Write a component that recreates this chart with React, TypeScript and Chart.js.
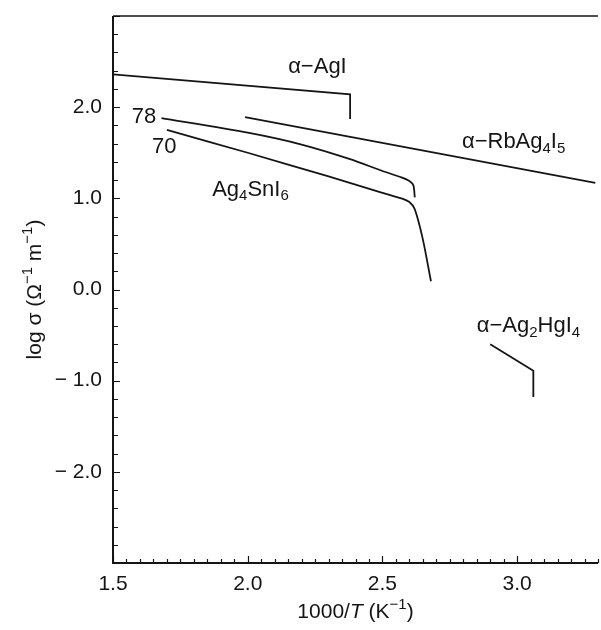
import React, { useEffect, useRef } from "react";
import { Chart, registerables } from "chart.js";

Chart.register(...registerables);

// ---- data ----
const agiX = [1.5, 2.38, 2.38];
const agiY = [2.36, 2.14, 1.87];

const rbX = [1.99, 3.29];
const rbY = [1.89, 1.17];

const sn78X = [1.68, 2.0, 2.2, 2.38, 2.5, 2.57, 2.6, 2.615, 2.62];
const sn78Y = [1.88, 1.72, 1.59, 1.43, 1.3, 1.23, 1.19, 1.14, 1.01];

const sn70X = [1.7, 2.0, 2.3, 2.5, 2.57, 2.6, 2.62, 2.65, 2.68];
const sn70Y = [1.75, 1.5, 1.24, 1.06, 1.0, 0.96, 0.88, 0.55, 0.09];

const hgX = [2.9, 3.06, 3.06];
const hgY = [-0.6, -0.89, -1.18];

const xMajorLabels = [1.5, 2.0, 2.5, 3.0];
const yMajorLabels = [-2, -1, 0, 1, 2];

const FAMILY = '"Liberation Sans", Arial, Helvetica, sans-serif';
const INK = "#151515";

type Part = { t: string; sub?: boolean; sup?: boolean; italic?: boolean };

// text annotations (data-space anchors, left/middle)
const annotations: { x: number; y: number; parts: Part[] }[] = [
  { x: 2.15, y: 2.44, parts: [{ t: "α−AgI" }] },
  { x: 1.57, y: 1.895, parts: [{ t: "78" }] },
  { x: 1.645, y: 1.566, parts: [{ t: "70" }] },
  { x: 1.868, y: 1.095, parts: [{ t: "Ag" }, { t: "4", sub: true }, { t: "SnI" }, { t: "6", sub: true }] },
  { x: 2.795, y: 1.62, parts: [{ t: "α−RbAg" }, { t: "4", sub: true }, { t: "I" }, { t: "5", sub: true }] },
  { x: 2.85, y: -0.405, parts: [{ t: "α−Ag" }, { t: "2", sub: true }, { t: "HgI" }, { t: "4", sub: true }] },
];

const toPts = (xs: number[], ys: number[]) => xs.map((x, i) => ({ x, y: ys[i] }));

function fontOf(p: Part, base: number) {
  const size = p.sub || p.sup ? Math.round(base * 0.7) : base;
  return `${p.italic ? "italic " : ""}${size}px ${FAMILY}`;
}

function richWidth(ctx: CanvasRenderingContext2D, parts: Part[], base: number) {
  let w = 0;
  for (const p of parts) {
    ctx.font = fontOf(p, base);
    w += ctx.measureText(p.t).width;
  }
  return w;
}

function drawRich(
  ctx: CanvasRenderingContext2D,
  parts: Part[],
  x: number,
  y: number,
  align: "left" | "center",
  base: number
) {
  const total = richWidth(ctx, parts, base);
  let cx = align === "center" ? x - total / 2 : x;
  ctx.textBaseline = "middle";
  ctx.textAlign = "left";
  for (const p of parts) {
    ctx.font = fontOf(p, base);
    const off = p.sub ? base * 0.3 : p.sup ? -base * 0.35 : 0;
    ctx.fillText(p.t, cx, y + off);
    cx += ctx.measureText(p.t).width;
  }
}

const isMajor = (v: number, step: number) => Math.abs(v / step - Math.round(v / step)) < 1e-6;

const framePlugin = {
  id: "frame",
  afterDraw(chart: any) {
    const ctx: CanvasRenderingContext2D = chart.ctx;
    const { left, right, top, bottom } = chart.chartArea;
    const xs = chart.scales.x;
    const ys = chart.scales.y;
    ctx.save();
    ctx.strokeStyle = INK;
    ctx.fillStyle = INK;

    // axes lines
    ctx.lineWidth = 2;
    ctx.beginPath();
    ctx.moveTo(left, top);
    ctx.lineTo(left, bottom);
    ctx.lineTo(right, bottom);
    ctx.stroke();
    ctx.lineWidth = 1.5;
    ctx.beginPath();
    ctx.moveTo(left, top);
    ctx.lineTo(right, top);
    ctx.stroke();

    // inward ticks
    ctx.lineWidth = 1.2;
    ctx.beginPath();
    for (const t of ys.ticks) {
      const py = Math.round(ys.getPixelForValue(t.value)) + 0.5;
      const len = isMajor(t.value, 1) ? 7 : 5;
      ctx.moveTo(left, py);
      ctx.lineTo(left + len, py);
    }
    for (const t of xs.ticks) {
      const px = Math.round(xs.getPixelForValue(t.value)) + 0.5;
      const len = isMajor(t.value, 0.5) ? 7 : 4;
      ctx.moveTo(px, bottom);
      ctx.lineTo(px, bottom - len);
    }
    ctx.stroke();

    // annotations
    for (const a of annotations) {
      drawRich(ctx, a.parts, xs.getPixelForValue(a.x), ys.getPixelForValue(a.y), "left", 22);
    }

    // axis titles
    drawRich(
      ctx,
      [{ t: "1000/" }, { t: "T", italic: true }, { t: " (K" }, { t: "−1", sup: true }, { t: ")" }],
      (left + right) / 2,
      612,
      "center",
      21
    );
    ctx.save();
    ctx.translate(35, (top + bottom) / 2);
    ctx.rotate(-Math.PI / 2);
    drawRich(
      ctx,
      [{ t: "log σ (Ω" }, { t: "−1", sup: true }, { t: " m" }, { t: "−1", sup: true }, { t: ")" }],
      0,
      0,
      "center",
      21
    );
    ctx.restore();
    ctx.restore();
  },
};

export default function App() {
  const ref = useRef<HTMLCanvasElement | null>(null);

  useEffect(() => {
    if (!ref.current) return;
    const line = (xs: number[], ys: number[], tension = 0) => ({
      data: toPts(xs, ys),
      showLine: true,
      borderColor: INK,
      borderWidth: 1.8,
      pointRadius: 0,
      tension,
      fill: false,
    });
    const chart = new Chart(ref.current, {
      type: "scatter",
      data: {
        datasets: [
          line(agiX, agiY),
          line(rbX, rbY),
          line(sn78X, sn78Y, 0.25),
          line(sn70X, sn70Y, 0.25),
          line(hgX, hgY),
        ],
      },
      options: {
        animation: false,
        responsive: false,
        devicePixelRatio: 1,
        layout: { padding: { left: 8, right: 3, top: 16, bottom: 0 } },
        plugins: { legend: { display: false }, tooltip: { enabled: false } },
        scales: {
          x: {
            type: "linear",
            min: 1.5,
            max: 3.3,
            grid: { display: false },
            border: { display: false },
            ticks: {
              stepSize: 0.05,
              autoSkip: false,
              maxRotation: 0,
              padding: 1,
              color: INK,
              font: { family: FAMILY, size: 21 },
              callback: (v: any) => {
                const n = Number(v);
                return xMajorLabels.some((m) => Math.abs(m - n) < 1e-6) ? n.toFixed(1) : "";
              },
            },
            afterFit: (s: any) => {
              s.height = 67;
            },
          },
          y: {
            type: "linear",
            min: -3,
            max: 3,
            grid: { display: false },
            border: { display: false },
            ticks: {
              stepSize: 0.2,
              autoSkip: false,
              padding: 3,
              color: INK,
              font: { family: FAMILY, size: 21 },
              callback: (v: any) => {
                const n = Number(v);
                if (!yMajorLabels.some((m) => Math.abs(m - n) < 1e-6)) return "";
                return n < -1e-6 ? "− " + Math.abs(n).toFixed(1) : Math.abs(n).toFixed(1);
              },
            },
            afterFit: (s: any) => {
              s.width = 105;
            },
          },
        },
      },
      plugins: [framePlugin],
    } as any);
    return () => chart.destroy();
  }, []);

  return (
    <div style={{ position: "absolute", left: 0, top: 0, width: 601, height: 630, background: "#fff" }}>
      <canvas ref={ref} width={601} height={630} style={{ width: 601, height: 630, display: "block" }} />
    </div>
  );
}
